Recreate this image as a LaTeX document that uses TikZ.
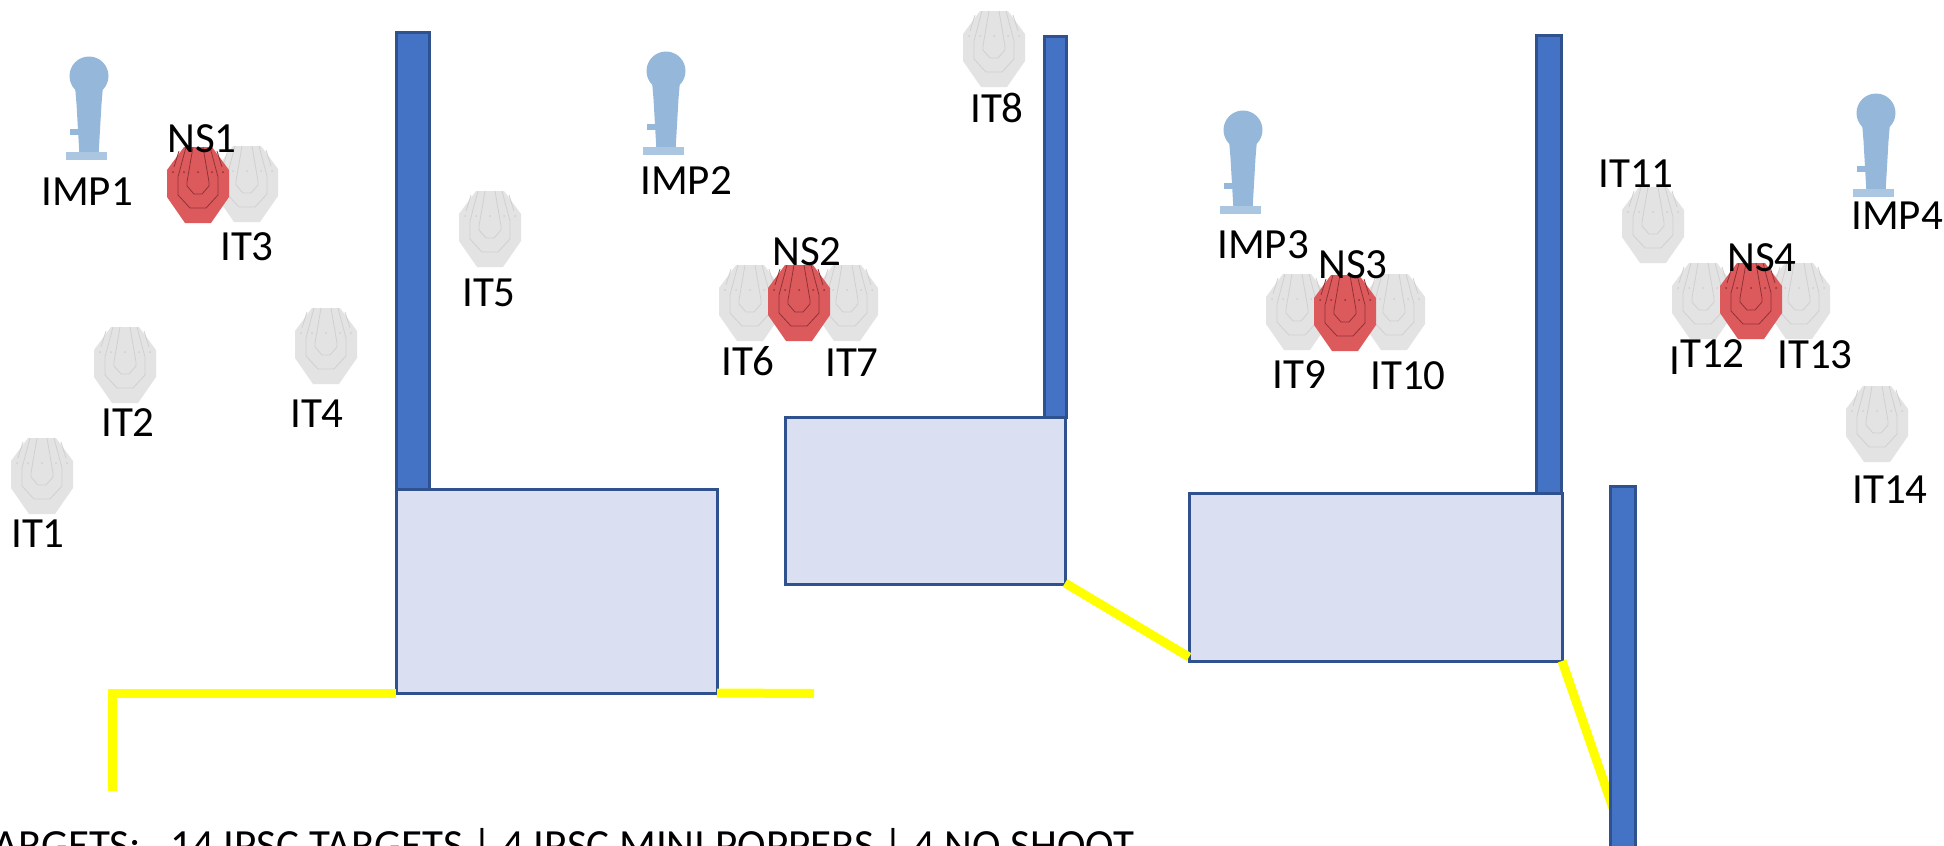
\documentclass[tikz,border=0pt]{standalone}
\usepackage{xcolor}
\usepackage{fontspec}
\setmainfont{Carlito}
\usepackage{tikz}
\usetikzlibrary{calc}
\definecolor{wallblue}{HTML}{4472C4}
\definecolor{wallline}{HTML}{2F528F}
\definecolor{boxblue}{HTML}{DAE0F2}
\definecolor{popperblue}{HTML}{95B8DA}
\definecolor{paper}{HTML}{E3E3E3}
\definecolor{paperline}{HTML}{D0D0D0}
\definecolor{noshoot}{HTML}{DD5A5C}
\definecolor{noshootline}{HTML}{8E3236}
\definecolor{faultyellow}{HTML}{FFFF00}
\tikzset{
	pics/target/.style 2 args={code={
		\fill[#1] (-14,-38) -- (14,-38) -- (31,-15) -- (31,12) -- (13,38) -- (-13,38) -- (-31,12) -- (-31,-15) -- cycle;
		\draw[#2,line width=0.8] (-5,-38) -- (-11,-3) -- (-11,1) -- (-4,9) -- (4,9) -- (11,1) -- (11,-3) -- (5,-38);
		\draw[#2,line width=0.8] (-12,-38) -- (-20,-8) -- (-20,10) -- (-8,23) -- (8,23) -- (20,10) -- (20,-8) -- (12,-38);
		\draw[#2,line width=0.8] (-19,-34) -- (-24,-18);
		\draw[#2,line width=0.8] (19,-34) -- (24,-18);
		\fill[#2] (-25,-13) circle (1);
		\fill[#2] (-14,-13) circle (1);
		\fill[#2] (0,-13) circle (1);
		\fill[#2] (14,-13) circle (1);
		\fill[#2] (25,-13) circle (1);
	}},
	pics/popper/.style={code={
		\fill[popperblue] (0,0) circle (19.5);
		\fill[popperblue] (-14,10) -- (14,10) -- (12.5,28) -- (9.5,80) -- (-9.5,80) -- (-12.5,28) -- cycle;
		\fill[popperblue] (-19,53) rectangle (-9,59);
		\fill[popperblue!80!white] (-23,76) rectangle (18,84);
	}}
}

\begin{document}
\begin{tikzpicture}[x=1pt,y=-1pt]
	\tikzstyle{every node}=[inner sep=0,outer sep=0]
	\tikzstyle{wall}=[fill=wallblue,draw=wallline,line width=3]
	\tikzstyle{barricade}=[fill=boxblue,draw=wallline,line width=3]
	\tikzstyle{faultline}=[draw=faultyellow,line width=9]
	\tikzstyle{tag}=[text=black,font=\fontsize{43}{43}\selectfont]
	\clip (0,0) rectangle (1944,846);
	\fill[white] (0,0) rectangle (1944,846);
	% walls
	\node[wall,minimum width=33,minimum height=457] (W1) at (412.5,260.5) {};
	\node[wall,minimum width=22,minimum height=381] (W2) at (1055,226.5) {};
	\node[wall,minimum width=25,minimum height=458] (W3) at (1548.5,264) {};
	% shooting boxes
	\node[barricade,minimum width=321,minimum height=204] (B1) at (556.5,591) {};
	\node[barricade,minimum width=280,minimum height=167] (B2) at (925,500.5) {};
	\node[barricade,minimum width=373,minimum height=168] (B3) at (1375.5,577) {};
	% fault lines
	\coordinate (F1) at (112,693);
	\coordinate (F2) at (112,791);
	\coordinate (F3) at (814,693.5);
	\coordinate (F4) at (1613,808);
	\draw[faultline,miter limit=10] (B1.south west) -- (F1) -- (F2);
	\draw[faultline] (B1.south east) -- (F3);
	\draw[faultline] ($(B2.south east)+(0,-1)$) -- ($(B3.south west)+(0,-4)$);
	\draw[faultline] (B3.south east) -- (F4);
	\node[wall,minimum width=25,minimum height=420] (W4) at (1622.5,696) {};
	% poppers
	\pic (P1) at (89,76) {popper};
	\pic (P2) at (666,71) {popper};
	\pic (P3) at (1243,130) {popper};
	\pic (P4) at (1876,113) {popper};
	% paper targets
	\pic (T1) at (42,476) {target={paper}{paperline}};
	\pic (T2) at (125,365) {target={paper}{paperline}};
	\pic (T3) at (247,184) {target={paper}{paperline}};
	\pic (T4) at (326,346) {target={paper}{paperline}};
	\pic (T5) at (490,229) {target={paper}{paperline}};
	\pic (T6) at (750,303) {target={paper}{paperline}};
	\pic (T7) at (847,303) {target={paper}{paperline}};
	\pic (T8) at (994,49) {target={paper}{paperline}};
	\pic (T9) at (1297,312) {target={paper}{paperline}};
	\pic (T10) at (1394,312) {target={paper}{paperline}};
	\pic (T11) at (1653,225) {target={paper}{paperline}};
	\pic (T12) at (1703,301) {target={paper}{paperline}};
	\pic (T13) at (1799,301) {target={paper}{paperline}};
	\pic (T14) at (1877,424) {target={paper}{paperline}};
	% no shoots
	\pic (N1) at (198,185) {target={noshoot}{noshootline}};
	\pic (N2) at (799,303) {target={noshoot}{noshootline}};
	\pic (N3) at (1345,313) {target={noshoot}{noshootline}};
	\pic (N4) at (1751,301) {target={noshoot}{noshootline}};
	% labels
	\node[tag] (IMP1) at (87,192) {IMP1};
	\node[tag] (IMP2) at (686,181) {IMP2};
	\node[tag] (IMP3) at (1263,245) {IMP3};
	\node[tag] (IMP4) at (1897,216) {IMP4};
	\node[tag] (NS1) at (202,139) {NS1};
	\node[tag] (NS2) at (807,252) {NS2};
	\node[tag] (NS3) at (1353,265) {NS3};
	\node[tag] (NS4) at (1762,258) {NS4};
	\node[tag] (IT1) at (38,534) {IT1};
	\node[tag] (IT2) at (128,423) {IT2};
	\node[tag] (IT3) at (247,247) {IT3};
	\node[tag] (IT4) at (317,414) {IT4};
	\node[tag] (IT5) at (489,293) {IT5};
	\node[tag] (IT6) at (748,361) {IT6};
	\node[tag] (IT7) at (852,363) {IT7};
	\node[tag] (IT8) at (997,108) {IT8};
	\node[tag] (IT9) at (1299,375) {IT9};
	\node[tag] (IT10) at (1408,376) {IT10};
	\node[tag] (IT11) at (1636,174) {IT11};
	\node[tag] (IT12) at (1707,357) {\raisebox{-7pt}{I}T12};
	\node[tag] (IT13) at (1815,355) {IT13};
	\node[tag] (IT14) at (1890,490) {IT14};
	\node[tag,anchor=base east] (TGT) at (1134,859) {TARGETS:\ \ \ 14 IPSC TARGETS | 4 IPSC MINI POPPERS | 4 NO SHOOT};
\end{tikzpicture}
\end{document}
